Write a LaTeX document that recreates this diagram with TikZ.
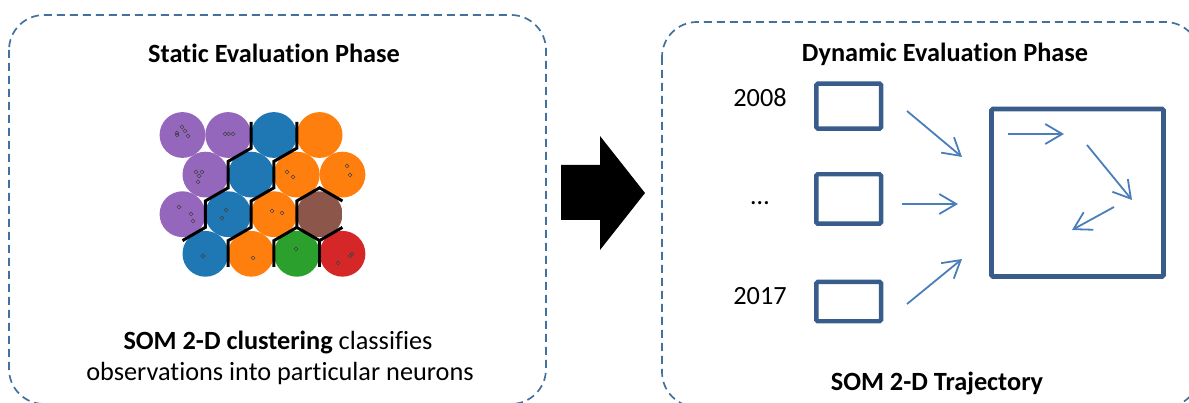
\documentclass[tikz,border=0pt]{standalone}
\usepackage{fontspec}
\setmainfont{Carlito}[Ligatures=NoCommon]
\usetikzlibrary{arrows.meta}
\definecolor{dashblue}{HTML}{41719C}
\definecolor{boxblue}{HTML}{385D8A}
\definecolor{arrblue}{HTML}{4A7EBB}
\definecolor{cpurple}{HTML}{9467BD}
\definecolor{cblue}{HTML}{1F77B4}
\definecolor{corange}{HTML}{FF7F0E}
\definecolor{cbrown}{HTML}{8C564B}
\definecolor{cgreen}{HTML}{2CA02C}
\definecolor{cred}{HTML}{D62728}
\tikzset{
  panel/.style={draw=dashblue, line width=1.7pt, dash pattern=on 8pt off 5pt, rounded corners=35pt},
  lbl/.style={font=\fontsize{26.3}{31}\selectfont, inner sep=0pt, anchor=base},
  yearbox/.style={draw=boxblue, line width=4.4pt, rounded corners=1.5pt, inner sep=0pt, minimum width=64.8pt},
  trajbox/.style={draw=boxblue, line width=4.8pt, rounded corners=1.5pt, inner sep=0pt, minimum width=172pt, minimum height=167.5pt},
  flow/.style={draw=arrblue, line width=1.8pt, -{Straight Barb[length=17pt,width=20pt,line width=1.8pt]}},
  border/.style={draw=black, line width=3pt, line join=miter},
  obs/.style={draw=black!75, line width=0.5pt},
}
\begin{document}
\begin{tikzpicture}[x=1pt,y=-1pt]
\useasboundingbox (0,0) rectangle (1189,403);
% panels
\draw[panel] (9,15) rectangle (546,404);
\draw[panel] (662,22) rectangle (1200,407);
% titles
\node[lbl, font=\fontsize{26.3}{31}\selectfont\bfseries] (stitle) at (274,63) {Static Evaluation Phase};
\node[lbl, font=\fontsize{26.3}{31}\selectfont\bfseries] (dtitle) at (945,62) {Dynamic Evaluation Phase};
\node[lbl] (sdesc1) at (278,350) {\textbf{SOM 2-D clustering} classifies};
\node[lbl] (sdesc2) at (280,381) {observations into particular neurons};
\node[lbl, font=\fontsize{26.3}{31}\selectfont\bfseries] (dcap) at (937,390) {SOM 2-D Trajectory};
% SOM cells
\def\ra{135}\def\rb{174.6}\def\rc{214.2}\def\rd{253.8}
\def\cr{22.9}
\fill[cpurple] (182.5,\ra) circle (\cr);
\fill[cpurple] (228.2,\ra) circle (\cr);
\fill[cblue]   (273.9,\ra) circle (\cr);
\fill[corange] (319.6,\ra) circle (\cr);
\fill[cpurple] (205.4,\rb) circle (\cr);
\fill[cblue]   (251.1,\rb) circle (\cr);
\fill[corange] (296.8,\rb) circle (\cr);
\fill[corange] (342.5,\rb) circle (\cr);
\fill[cpurple] (182.5,\rc) circle (\cr);
\fill[cblue]   (228.2,\rc) circle (\cr);
\fill[corange] (273.9,\rc) circle (\cr);
\begin{scope}
\clip (319.6,187.8) -- (342.45,201) -- (342.45,227.4) -- (319.6,240.6) -- (296.75,227.4) -- (296.75,201) -- cycle;
\fill[cbrown] (319.6,\rc) circle (\cr);
\end{scope}
\fill[cblue]   (205.4,\rd) circle (\cr);
\fill[corange] (251.1,\rd) circle (\cr);
\fill[cgreen]  (296.8,\rd) circle (\cr);
\fill[cred]    (342.5,\rd) circle (\cr);
% observations
\foreach \p in {(177,133),(182,127),(185,131),(188,136),(177,135),(225,134),(228.5,134),(233,134),
  (196,172),(199,176),(202,172),(198,182),(287,172),(293,177),(347,166),(350,175),
  (179,207),(191,214),(193,221),(226,210),(222,218),(272,211),(282,213),
  (203,256),(253,258),(296,249),(338,263),(350,256),(352,254)}
  \draw[obs] \p circle (1.9);
% cluster borders
\draw[border] (251.05,121.8) -- (251.05,148.2) -- (228.2,161.4) -- (228.2,187.8) -- (205.35,201) -- (205.35,227.4) -- (182.5,240.6);
\draw[border] (296.75,121.8) -- (296.75,148.2) -- (273.9,161.4) -- (273.9,187.8) -- (251.05,201) -- (251.05,227.4) -- (228.2,240.6) -- (228.2,267);
\draw[border] (342.45,201) -- (319.6,187.8) -- (296.75,201) -- (296.75,227.4) -- (319.6,240.6) -- (342.45,227.4);
\draw[border] (273.95,267) -- (273.95,240.6) -- (296.8,227.4);
\draw[border] (319.65,240.6) -- (319.65,267);
% block arrow
\fill[black] (561,165) -- (600,165) -- (600,136) -- (645,193) -- (600,250) -- (600,220) -- (561,220) -- cycle;
% years
\node[lbl] (y2008) at (760,107) {2008};
\node[lbl] (ydots) at (760,205) {…};
\node[lbl] (y2017) at (760,305) {2017};
\node[yearbox, minimum height=45pt] (b1) at (848.7,106.2) {};
\node[yearbox, minimum height=49.4pt] (b2) at (848.7,199) {};
\node[yearbox, minimum height=39.3pt] (b3) at (848.7,301.6) {};
\node[trajbox] (traj) at (1077.5,192.75) {};
% arrows
\coordinate (a1s) at (907,111); \coordinate (a1e) at (962,157);
\coordinate (a2s) at (902,204); \coordinate (a2e) at (958,204);
\coordinate (a3s) at (907,304); \coordinate (a3e) at (962,259);
\coordinate (t1s) at (1008,134); \coordinate (t1e) at (1064,134);
\coordinate (t2s) at (1087,145); \coordinate (t2e) at (1132,200);
\coordinate (t3s) at (1114,207); \coordinate (t3e) at (1072,230);
\draw[flow] (a1s) -- (a1e);
\draw[flow] (a2s) -- (a2e);
\draw[flow] (a3s) -- (a3e);
\draw[flow] (t1s) -- (t1e);
\draw[flow] (t2s) -- (t2e);
\draw[flow] (t3s) -- (t3e);
\end{tikzpicture}
\end{document}
